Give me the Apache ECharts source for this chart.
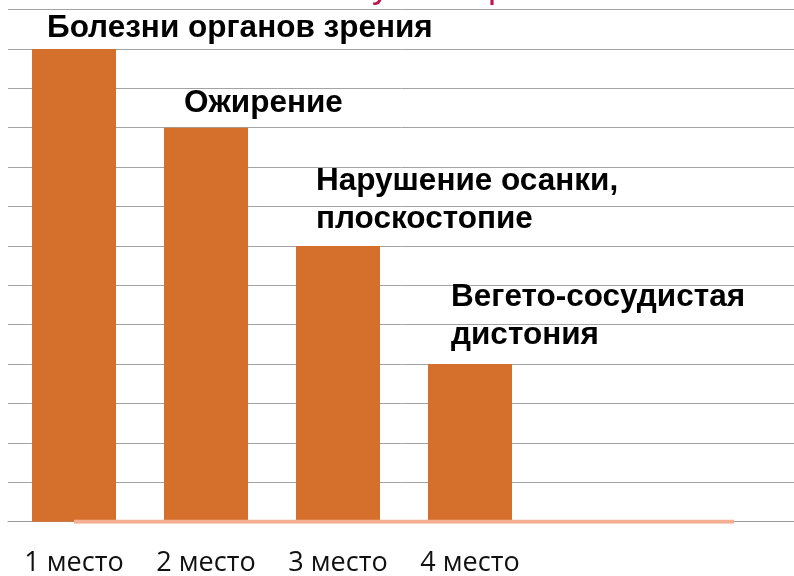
<!DOCTYPE html>
<html>
<head>
<meta charset="utf-8">
<script src="https://cdn.jsdelivr.net/npm/echarts@6/dist/echarts.min.js"></script>
<style>
  html, body { margin: 0; padding: 0; background: #fff; }
  #chart { width: 794px; height: 576px; }
</style>
</head>
<body>
<div id="chart"></div>
<script>
// places along the x axis (last two are empty slots)
const places = ['1 место', '2 место', '3 место', '4 место', '', ''];
// rank height of each disease bar
const rankValues = [12, 10, 7, 4];
const diseaseNames = [
  'Болезни органов зрения',
  'Ожирение',
  'Нарушение осанки,\nплоскостопие',
  'Вегето-сосудистая\nдистония'
];
// flat baseline series
const baseValues = [0, 0, 0, 0, 0, 0];
const yTicks = { min: 0, max: 13, step: 1 };

// label offsets from bar top-left corner
const labelShift = [[15, -2], [20, -5], [20, -8], [23, -10]];

const chart = echarts.init(document.getElementById('chart'), null, { renderer: 'canvas' });

const barData = rankValues.map((v, i) => ({
  value: v,
  label: { position: labelShift[i], formatter: diseaseNames[i] }
}));

const option = {
  animation: false,
  grid: { left: 8, right: -6, top: 9.5, bottom: 54.3, outerBoundsMode: 'none', containLabel: false },
  xAxis: {
    type: 'category',
    data: places,
    axisLine: { lineStyle: { color: '#9a9a9a', width: 1 } },
    axisTick: { show: false },
    axisLabel: {
      interval: 0,
      margin: 28,
      color: '#111',
      fontFamily: 'Open Sans',
      fontSize: 27
    }
  },
  yAxis: {
    type: 'value',
    min: yTicks.min,
    max: yTicks.max,
    interval: yTicks.step,
    axisLabel: { show: false },
    axisLine: { show: false },
    axisTick: { show: false },
    splitLine: { lineStyle: { color: '#a3a3a3', width: 1 } }
  },
  graphic: [
    { type: 'text', left: 372, top: -31, style: { text: 'у', fill: '#c0154b', font: '36px "Liberation Sans"' } },
    { type: 'text', left: 488, top: -31, style: { text: 'р', fill: '#c0154b', font: '36px "Liberation Sans"' } }
  ],
  series: [
    {
      type: 'bar',
      data: barData,
      barWidth: 84,
      itemStyle: { color: '#d4702c' },
      label: {
        show: true,
        align: 'left',
        verticalAlign: 'bottom',
        color: '#000',
        fontFamily: 'Liberation Sans',
        fontWeight: 'bold',
        fontSize: 31.5,
        lineHeight: 38
      }
    },
    {
      type: 'line',
      data: baseValues,
      symbol: 'none',
      lineStyle: { color: '#f4ae92', width: 4 },
      z: 3
    }
  ]
};

chart.setOption(option);
</script>
</body>
</html>
